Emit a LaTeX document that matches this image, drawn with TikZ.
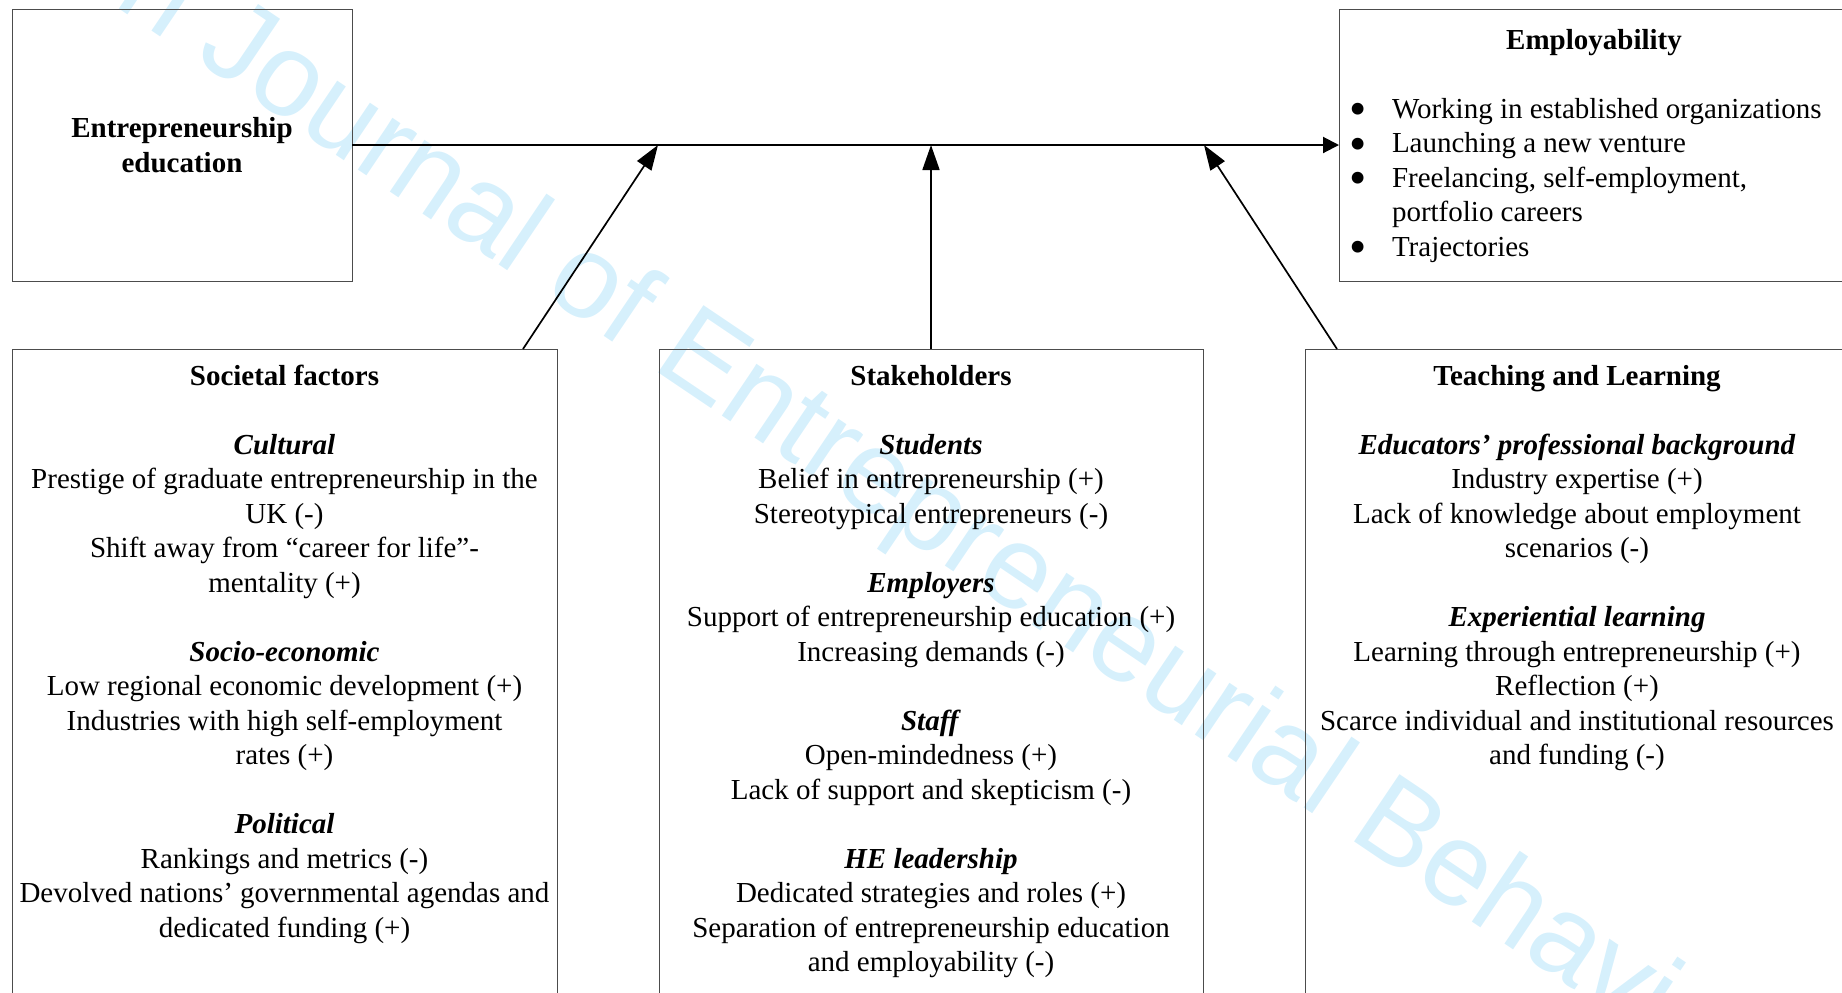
\documentclass[tikz,border=0pt]{standalone}
\usepackage{fontspec}
\setmainfont{Liberation Serif}
\newfontfamily\wmfont{Liberation Sans}
\usepackage{tikz}
\usetikzlibrary{arrows.meta,positioning}
\definecolor{wmblue}{RGB}{214,240,252}
\newcommand{\grouphead}[1]{\textbf{\textit{#1}}}
\newcommand{\listdot}{\makebox[21.5pt][l]{\raisebox{-3.7pt}{\scalebox{1.7}{\textbullet}}}}

\begin{document}
\begin{tikzpicture}[
    x=0.5pt, y=-0.5pt,
    every node/.style={inner sep=0pt, outer sep=0pt},
    box/.style={rectangle, draw=black!70, line width=0.5pt},
    txt/.style={align=center, font=\fontsize{14.5}{17.25}\selectfont},
    arrow/.style={-{Triangle[length=12.5pt, width=8.5pt]}, line width=0.85pt},
    mainarrow/.style={-{Triangle[length=8pt, width=8pt]}, line width=1pt},
]
    \useasboundingbox (0,0) rectangle (1842,992);
    \clip (0,0) rectangle (1842,992);

    % Watermark
    \node[text=wmblue, font=\wmfont\fontsize{59}{59}\selectfont, rotate=-34, anchor=base west] (wm) at (112,4) {n Journal of Entrepreneurial Behavi};

    % Top row
    \node[box, txt, minimum width=170pt, minimum height=136pt] (edu) at (182,145) {\textbf{Entrepreneurship}\\\textbf{education}};
    \node[box, minimum width=255pt, minimum height=136pt] (emp) at (1594,145) {};
    \node[txt, below=10pt of emp.north] (emptitle) {\textbf{Employability}};
    \node[txt, align=left, anchor=north west] (emplist) at (1349,98) {%
        \listdot Working in established organizations\\
        \listdot Launching a new venture\\
        \listdot Freelancing, self-employment,\\
        \hspace*{21.5pt}portfolio careers\\
        \listdot Trajectories};

    % Bottom row
    \node[box, minimum width=272.5pt, minimum height=332pt] (soc) at (284.5,681) {};
    \node[box, minimum width=272pt, minimum height=332pt] (stk) at (931,681) {};
    \node[box, minimum width=272pt, minimum height=332pt] (tl) at (1577,681) {};

    \node[txt, below=8pt of soc.north] (soctxt) {%
        \textbf{Societal factors}\\[\baselineskip]
        \grouphead{Cultural}\\
        Prestige of graduate entrepreneurship in the\\
        UK (-)\\
        Shift away from “career for life”-\\
        mentality (+)\\[\baselineskip]
        \grouphead{Socio-economic}\\
        Low regional economic development (+)\\
        Industries with high self-employment\\
        rates (+)\\[\baselineskip]
        \grouphead{Political}\\
        Rankings and metrics (-)\\
        Devolved nations’ governmental agendas and\\
        dedicated funding (+)};

    \node[txt, below=8pt of stk.north] (stktxt) {%
        \textbf{Stakeholders}\\[\baselineskip]
        \grouphead{Students}\\
        Belief in entrepreneurship (+)\\
        Stereotypical entrepreneurs (-)\\[\baselineskip]
        \grouphead{Employers}\\
        Support of entrepreneurship education (+)\\
        Increasing demands (-)\\[\baselineskip]
        \grouphead{Staff}\\
        Open-mindedness (+)\\
        Lack of support and skepticism (-)\\[\baselineskip]
        \grouphead{HE leadership}\\
        Dedicated strategies and roles (+)\\
        Separation of entrepreneurship education\\
        and employability (-)};

    \node[txt, below=8pt of tl.north] (tltxt) {%
        \textbf{Teaching and Learning}\\[\baselineskip]
        \grouphead{Educators’ professional background}\\
        Industry expertise (+)\\
        Lack of knowledge about employment\\
        scenarios (-)\\[\baselineskip]
        \grouphead{Experiential learning}\\
        Learning through entrepreneurship (+)\\
        Reflection (+)\\
        Scarce individual and institutional resources\\
        and funding (-)};

    % Joins on the main line
    \coordinate (socjoin) at (658,145);
    \coordinate (stkjoin) at (931,145);
    \coordinate (tljoin) at (1204,145);

    % Arrows
    \draw[mainarrow] (edu) -- (emp);
    \draw[arrow] ([xshift=-17pt]soc.north east) -- (socjoin);
    \draw[arrow] (stk) -- (stkjoin);
    \draw[arrow] ([xshift=16pt]tl.north west) -- (tljoin);
\end{tikzpicture}
\end{document}
